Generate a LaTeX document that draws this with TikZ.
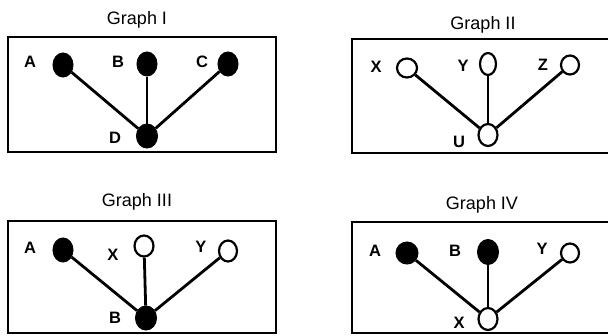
\documentclass[tikz,border=0pt]{standalone}
\usepackage{fontspec}
\setmainfont{Liberation Sans}
\usetikzlibrary{shapes.geometric}
\begin{document}
\begin{tikzpicture}[x=1pt,y=-1pt,
  frame/.style={draw=black,line width=2pt},
  title/.style={font=\fontsize{18}{18}\selectfont},
  lab/.style={font=\fontsize{16.5}{16.5}\selectfont\bfseries},
  full/.style={ellipse,draw=black,fill=black,line width=1pt,inner sep=0pt,minimum width=20pt,minimum height=24pt},
  hollow/.style={ellipse,draw=black,fill=white,line width=2.2pt,inner sep=0pt,minimum width=18pt,minimum height=19pt},
  edge/.style={draw=black,line width=2.8pt}]
\useasboundingbox (0,0) rectangle (608,335);
\begin{scope}
\clip (0,0) rectangle (608,335);

% ---- Graph I ----
\node[title] (t1) at (137,20) {Graph I};
\draw[frame] (8,37) rectangle (276,152);
\node[full] (a1) at (63,65) {};
\node[full] (b1) at (147,64) {};
\node[full] (c1) at (228,64) {};
\node[full,minimum width=21pt] (d1) at (147,136) {};
\node[lab] (la1) at (30,62) {A};
\node[lab] (lb1) at (118,62) {B};
\node[lab] (lc1) at (202,62) {C};
\node[lab] (ld1) at (115,138) {D};
\draw[edge] (a1) -- (d1);
\draw[edge] (b1) -- (d1);
\draw[edge] (c1) -- (d1);

% ---- Graph II ----
\node[title] (t2) at (483,25) {Graph II};
\draw[frame] (352,39) rectangle (625,153);
\node[hollow,minimum width=20pt] (x2) at (407,68) {};
\node[hollow,minimum width=16pt,minimum height=22pt] (y2) at (488,64) {};
\node[hollow] (z2) at (570,65) {};
\node[hollow,minimum width=19pt,minimum height=22pt] (u2) at (488,135) {};
\node[lab] (lx2) at (376,67) {X};
\node[lab] (ly2) at (463,66) {Y};
\node[lab] (lz2) at (543,65) {Z};
\node[lab] (lu2) at (459,142) {U};
\draw[edge] (x2) -- (u2);
\draw[edge] (y2) -- (u2);
\draw[edge] (z2) -- (u2);

% ---- Graph III ----
\node[title] (t3) at (137,202) {Graph III};
\draw[frame] (8,221) rectangle (276,333);
\node[full] (a3) at (63,250) {};
\node[hollow,minimum width=19pt,minimum height=21pt] (x3) at (144,246) {};
\node[hollow,minimum width=18pt,minimum height=21pt] (y3) at (228,251) {};
\node[full,minimum width=21pt] (b3) at (146,318) {};
\node[lab] (la3) at (30,248) {A};
\node[lab] (lx3) at (113,255) {X};
\node[lab] (ly3) at (201,247) {Y};
\node[lab] (lb3) at (115,318) {B};
\draw[edge] (a3) -- (b3);
\draw[edge] (x3) -- (b3);
\draw[edge] (y3) -- (b3);

% ---- Graph IV ----
\node[title] (t4) at (482,205) {Graph IV};
\draw[frame] (352,222) rectangle (625,333);
\node[full,minimum width=22pt,minimum height=22pt] (a4) at (407,253) {};
\node[full,minimum width=21pt,minimum height=25pt] (b4) at (488,252) {};
\node[hollow] (y4) at (570,253) {};
\node[hollow,minimum width=19pt,minimum height=22pt] (x4) at (488,319) {};
\node[lab] (la4) at (375,251) {A};
\node[lab] (lb4) at (455,251) {B};
\node[lab] (ly4) at (542,249) {Y};
\node[lab] (lx4) at (459,323) {X};
\draw[edge] (a4) -- (x4);
\draw[edge] (b4) -- (x4);
\draw[edge] (y4) -- (x4);
\end{scope}
\end{tikzpicture}
\end{document}
